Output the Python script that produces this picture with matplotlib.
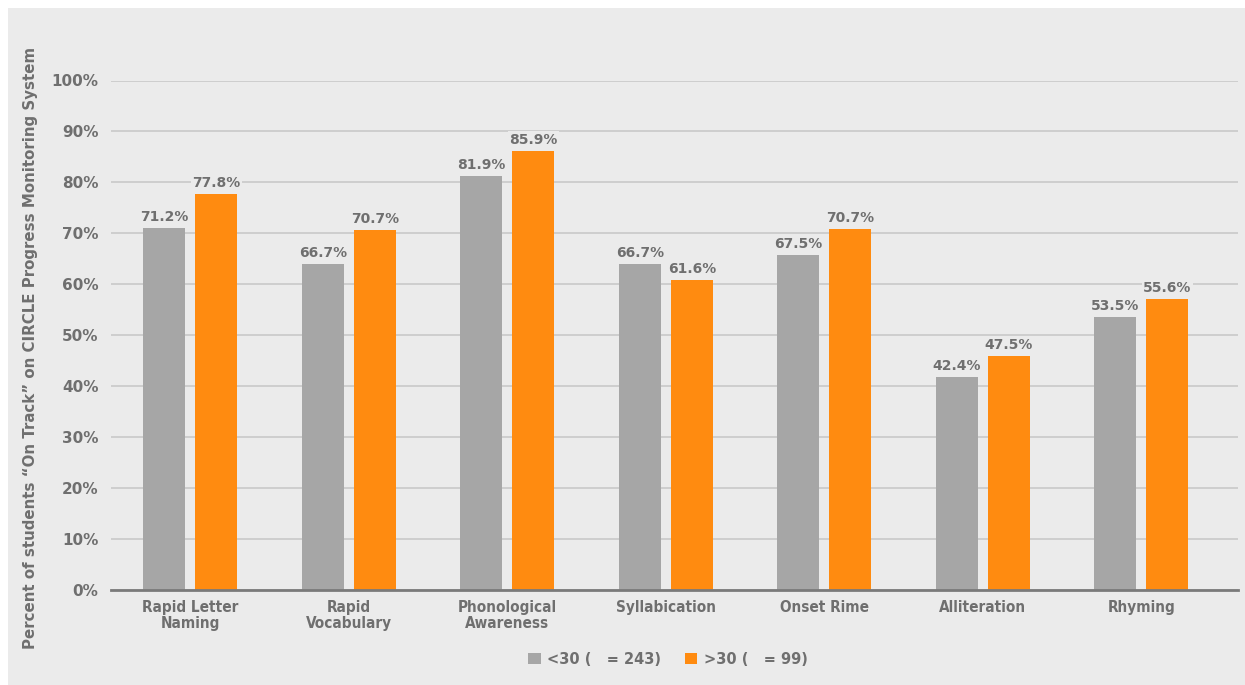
import matplotlib
matplotlib.use("Agg")
import matplotlib.pyplot as plt
from matplotlib.patches import Rectangle
import numpy as np

# categories and the two groups (bar heights, labels as printed)
categories = ["Rapid Letter\nNaming", "Rapid\nVocabulary", "Phonological\nAwareness",
              "Syllabication", "Onset Rime", "Alliteration", "Rhyming"]
under30 = [71.1, 64.0, 81.3, 64.0, 65.8, 41.8, 53.6]
over30 = [77.8, 70.7, 86.2, 60.8, 70.9, 45.9, 57.1]
under30_labels = ["71.2%", "66.7%", "81.9%", "66.7%", "67.5%", "42.4%", "53.5%"]
over30_labels = ["77.8%", "70.7%", "85.9%", "61.6%", "70.7%", "47.5%", "55.6%"]
series_names = ["<30 (   = 243)", ">30 (   = 99)"]
yticks = [0, 10, 20, 30, 40, 50, 60, 70, 80, 90, 100]

GRAY = "#a6a6a6"
ORANGE = "#ff8b10"
TXT = "#6f6f6f"
BG = "#ebebeb"

W, H = 1245, 685
fig = plt.figure(figsize=(W / 100, H / 100), dpi=100, facecolor="white")
fig.patches.append(Rectangle((8 / W, 0), 1 - 8 / W, 1 - 8 / H, transform=fig.transFigure,
                             facecolor=BG, edgecolor="none", zorder=-10))

# axes: x from 111 to 1238 px, y from 590 (0%) to 80.5 (100%)
ax = fig.add_axes([111 / W, (H - 590) / H, (1238 - 111) / W, (590 - 80.5) / H])
ax.set_facecolor("none")

x = np.arange(len(categories))
off = 0.164
bw = 0.265
ax.bar(x - off, under30, bw, color=GRAY, zorder=3, label=series_names[0])
ax.bar(x + off, over30, bw, color=ORANGE, zorder=3, label=series_names[1])

for xi, v, lab in zip(x - off, under30, under30_labels):
    ax.text(xi, v + 0.8, lab, ha="center", va="bottom", fontsize=10, fontweight="bold",
            color=TXT, zorder=4, bbox=dict(facecolor=BG, edgecolor="none", pad=1))
for xi, v, lab in zip(x + off, over30, over30_labels):
    ax.text(xi, v + 0.8, lab, ha="center", va="bottom", fontsize=10, fontweight="bold",
            color=TXT, zorder=4, bbox=dict(facecolor=BG, edgecolor="none", pad=1))

ax.set_xlim(-0.5, 6.61)
ax.set_ylim(0, 100)
ax.set_yticks(yticks)
ax.set_yticklabels([f"{t}%" for t in yticks], fontsize=11, fontweight="bold", color=TXT)
ax.set_xticks(x)
ax.set_xticklabels(categories, fontsize=11, fontweight="bold", color=TXT,
                   fontstretch="condensed", linespacing=1.1)
ax.tick_params(axis="both", length=0)
ax.tick_params(axis="y", pad=9)
ax.tick_params(axis="x", pad=7)
ax.grid(axis="y", color="#cbcbcb", linewidth=1.3, zorder=1)
for s in ["top", "right", "left"]:
    ax.spines[s].set_visible(False)
ax.spines["bottom"].set_color("#7a7a7a")
ax.spines["bottom"].set_linewidth(2)
ax.spines["bottom"].set_zorder(5)

fig.text(31 / W, 1 - 348 / H,
         "Percent of students \u201cOn Track\u201d on CIRCLE Progress Monitoring System",
         rotation=90, ha="center", va="center", fontsize=10.8, fontweight="semibold", color=TXT)

leg = fig.legend(loc="center", bbox_to_anchor=(668 / W, 1 - 659 / H), ncol=2, frameon=False,
                 handlelength=0.85, handleheight=0.85, handletextpad=0.45,
                 columnspacing=1.6, labelcolor=TXT, prop={"weight": "bold", "size": 10.5})

fig.savefig("out.png", dpi=100, facecolor="white")
